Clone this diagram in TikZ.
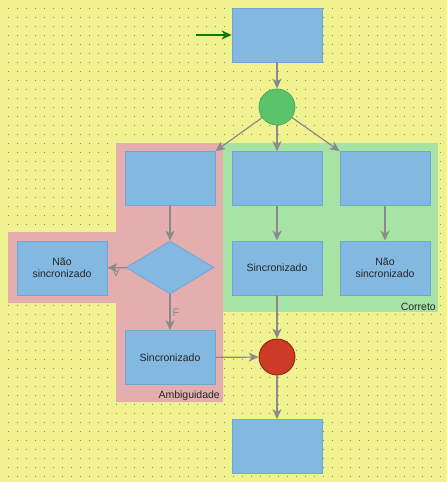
\documentclass[tikz,border=0pt]{standalone}
\usepackage{fontspec}
\setmainfont{Liberation Sans}
\usetikzlibrary{arrows.meta,shapes.geometric}
\definecolor{bgyellow}{HTML}{F0F290}
\definecolor{dotgray}{HTML}{8C8C70}
\definecolor{pinkreg}{HTML}{E4AEAE}
\definecolor{greenreg}{HTML}{A6E3A4}
\definecolor{boxblue}{HTML}{83B8E1}
\definecolor{boxborder}{HTML}{6FA6D6}
\definecolor{gcirc}{HTML}{5BC46A}
\definecolor{gcircb}{HTML}{4DAB5A}
\definecolor{rcirc}{HTML}{CD3A25}
\definecolor{rcircb}{HTML}{8A1E12}
\definecolor{arrgray}{HTML}{8A8A8A}
\definecolor{startgreen}{HTML}{0A7A0A}
\begin{document}
\begin{tikzpicture}[x=1pt,y=-1pt,
  box/.style={rectangle,fill=boxblue,draw=boxborder,line width=0.8pt,minimum width=90pt,minimum height=54pt,inner sep=0pt,align=center,font=\fontsize{10.5}{12.5}\selectfont,text=black!85},
  dec/.style={diamond,fill=boxblue,draw=boxborder,line width=0.8pt,minimum width=88pt,minimum height=53pt,inner sep=0pt},
  evt/.style={circle,minimum size=36pt,inner sep=0pt,line width=0.8pt},
  arr/.style={draw=arrgray,line width=1.2pt,-{Stealth[length=10pt,width=9pt,inset=3pt]}},
  lbl/.style={font=\fontsize{10.5}{12.5}\selectfont,text=black!85,inner sep=1pt},
  cond/.style={font=\fontsize{11}{13}\selectfont,text=arrgray,inner sep=0pt}]
\fill[bgyellow] (0,0) rectangle (447,482);
\useasboundingbox (0,0) rectangle (447,482);
\foreach \x in {8,17,...,440} \foreach \y in {8,17,...,476} \fill[dotgray] (\x-0.5,\y-0.5) rectangle ++(1,1);
% regions
\fill[pinkreg] (116,143) -- (223,143) -- (223,402) -- (116,402) -- (116,303) -- (8,303) -- (8,232) -- (116,232) -- cycle;
\fill[greenreg] (223,143) rectangle (438,312);
\node[lbl,anchor=south east] (amb) at (221,402) {Ambiguidade};
\node[lbl,anchor=south east] (cor) at (437,312) {Correto};
% nodes
\node[box] (top) at (277,35) {};
\node[evt,fill=gcirc,draw=gcircb] (gc) at (277,107) {};
\node[box] (pt) at (170,178.5) {};
\node[dec] (d) at (170,267.5) {};
\node[box] (pn) at (62,268) {Não\\sincronizado};
\node[box] (ps) at (170,357.5) {Sincronizado};
\node[box] (g1) at (277,178.5) {};
\node[box] (g2) at (385,178.5) {};
\node[box] (gs) at (277,268) {Sincronizado};
\node[box] (gn) at (385,268) {Não\\sincronizado};
\node[evt,fill=rcirc,draw=rcircb] (rc) at (277,357) {};
\node[box] (bot) at (277,446.5) {};
\coordinate (start) at (196,35);
% connectors
\draw[draw=startgreen,line width=1.2pt,-{Stealth[length=10pt,width=9pt,inset=3pt]}] (start) -- (top.west);
\draw[arr] (top) -- (gc);
\draw[arr] (gc) -- (pt.north east);
\draw[arr] (gc) -- (g1);
\draw[arr] (gc) -- (g2.north west);
\draw[arr] (pt) -- (d);
\draw[arr] (d) -- node[cond,pos=0.53,below,yshift=-1pt] {V} (pn);
\draw[arr] (d) -- node[cond,pos=0.5,right,xshift=2pt] {F} (ps);
\draw[arr] (g1) -- (gs);
\draw[arr] (g2) -- (gn);
\draw[arr] (gs) -- (rc);
\draw[arr] (ps) -- (rc);
\draw[arr] (rc) -- (bot);
\end{tikzpicture}
\end{document}
